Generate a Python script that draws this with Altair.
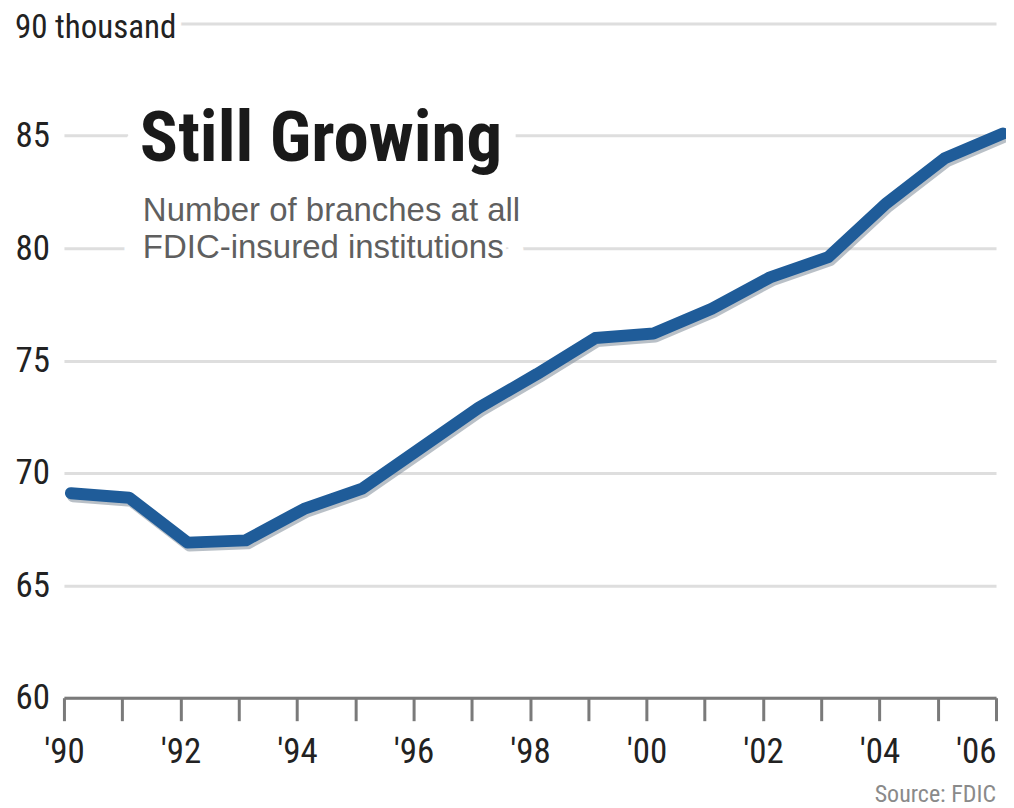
import altair as alt
import pandas as pd

# ---- data ----
years = list(range(1990, 2007))
branches = [69.1, 68.9, 66.9, 67.0, 68.4, 69.3, 71.1, 72.9, 74.4, 76.0,
            76.2, 77.3, 78.7, 79.6, 82.0, 84.0, 85.1]
y_ticks = [60, 65, 70, 75, 80, 85, 90]
top_label = "90 thousand"
title_text = "Still Growing"
subtitle_lines = ["Number of branches at all", "FDIC-insured institutions"]
source_text = "Source: FDIC"

df = pd.DataFrame({"year": years, "branches": branches})
one = pd.DataFrame({"k": [0]})

COND = "Roboto Condensed, Open Sans Condensed, sans-serif"
REG = "Liberation Sans, Arial, sans-serif"

x_enc = alt.X(
    "year:Q",
    scale=alt.Scale(domain=[1990, 2006], nice=False, zero=False),
    axis=alt.Axis(
        values=years, format="d", title=None, grid=False,
        labelExpr="datum.value % 2 == 0 ? \"'\" + substring(datum.label, 2, 4) : ''",
        labelAlign={"condition": {"test": "datum.value == 2006", "value": "right"},
                    "value": "center"},
        domainColor="#7a7a7a", domainWidth=3,
        tickColor="#7a7a7a", tickWidth=3, tickSize=23,
        labelPadding=14, labelFont=COND, labelFontSize=35, labelColor="#222222",
        labelFlush=False, labelOverlap=False,
    ),
)
y_enc = alt.Y(
    "branches:Q",
    scale=alt.Scale(domain=[60, 90], nice=False, zero=False),
    axis=alt.Axis(
        values=y_ticks, title=None, domain=False, ticks=False, tickSize=0,
        grid=True, gridColor="#dedede", gridWidth=3,
        labelExpr="datum.value == 90 ? '' : datum.label",
        labelAlign="left", labelPadding=49, labelFont=COND, labelFontSize=35,
        labelColor="#222222",
    ),
)

shadow = alt.Chart(df).mark_line(
    color="#7f8c99", opacity=0.55, strokeWidth=12, strokeCap="round",
    strokeJoin="round", xOffset=9, yOffset=3,
).encode(x=x_enc, y=y_enc)

line = alt.Chart(df).mark_line(
    color="#1f5c99", strokeWidth=12, strokeCap="round", strokeJoin="round",
    xOffset=7,
).encode(x=x_enc, y=y_enc)

# white halos masking the gridlines behind texts
top_halo = alt.Chart(one).mark_text(
    text=top_label, align="left", baseline="alphabetic", font=COND, fontSize=33,
    dy=15, fill="white", stroke="white", strokeWidth=14, strokeJoin="round",
).encode(x=alt.value(-49), y=alt.datum(90))
top_txt = alt.Chart(one).mark_text(
    text=top_label, align="left", baseline="alphabetic", font=COND, fontSize=33,
    dy=15, color="#222222",
).encode(x=alt.value(-49), y=alt.datum(90))

title_halo = alt.Chart(one).mark_text(
    text=title_text, align="left", baseline="alphabetic", font=COND,
    fontSize=71, fontWeight="bold", fill="white", stroke="white",
    strokeWidth=34, strokeJoin="round",
).encode(x=alt.value(76), y=alt.value(138))
title_txt = alt.Chart(one).mark_text(
    text=title_text, align="left", baseline="alphabetic", font=COND,
    fontSize=71, fontWeight="bold", color="#1a1a1a",
).encode(x=alt.value(76), y=alt.value(138))

sub_halo = alt.Chart(one).mark_text(
    text=subtitle_lines, align="left", baseline="alphabetic", font=REG,
    fontSize=33, lineHeight=37, fill="white", stroke="white",
    strokeWidth=42, strokeJoin="round",
).encode(x=alt.value(79), y=alt.value(198))
sub_txt = alt.Chart(one).mark_text(
    text=subtitle_lines, align="left", baseline="alphabetic", font=REG,
    fontSize=33, lineHeight=37, color="#5f5f5f",
).encode(x=alt.value(79), y=alt.value(198))

source = alt.Chart(one).mark_text(
    text=source_text, align="right", baseline="alphabetic", font=COND,
    fontSize=24, color="#8a8a8a",
).encode(x=alt.value(933), y=alt.value(779))

chart = alt.layer(
    top_halo, title_halo, sub_halo,
    shadow, line,
    top_txt, title_txt, sub_txt, source,
).properties(
    width=933, height=675,
    padding={"left": 56, "top": 15, "right": 10, "bottom": 110},
    autosize=alt.AutoSizeParams(type="none"),
    background="white",
).configure_view(strokeWidth=0)

chart.save("out.html", embed_options={"renderer": "svg", "actions": False})
